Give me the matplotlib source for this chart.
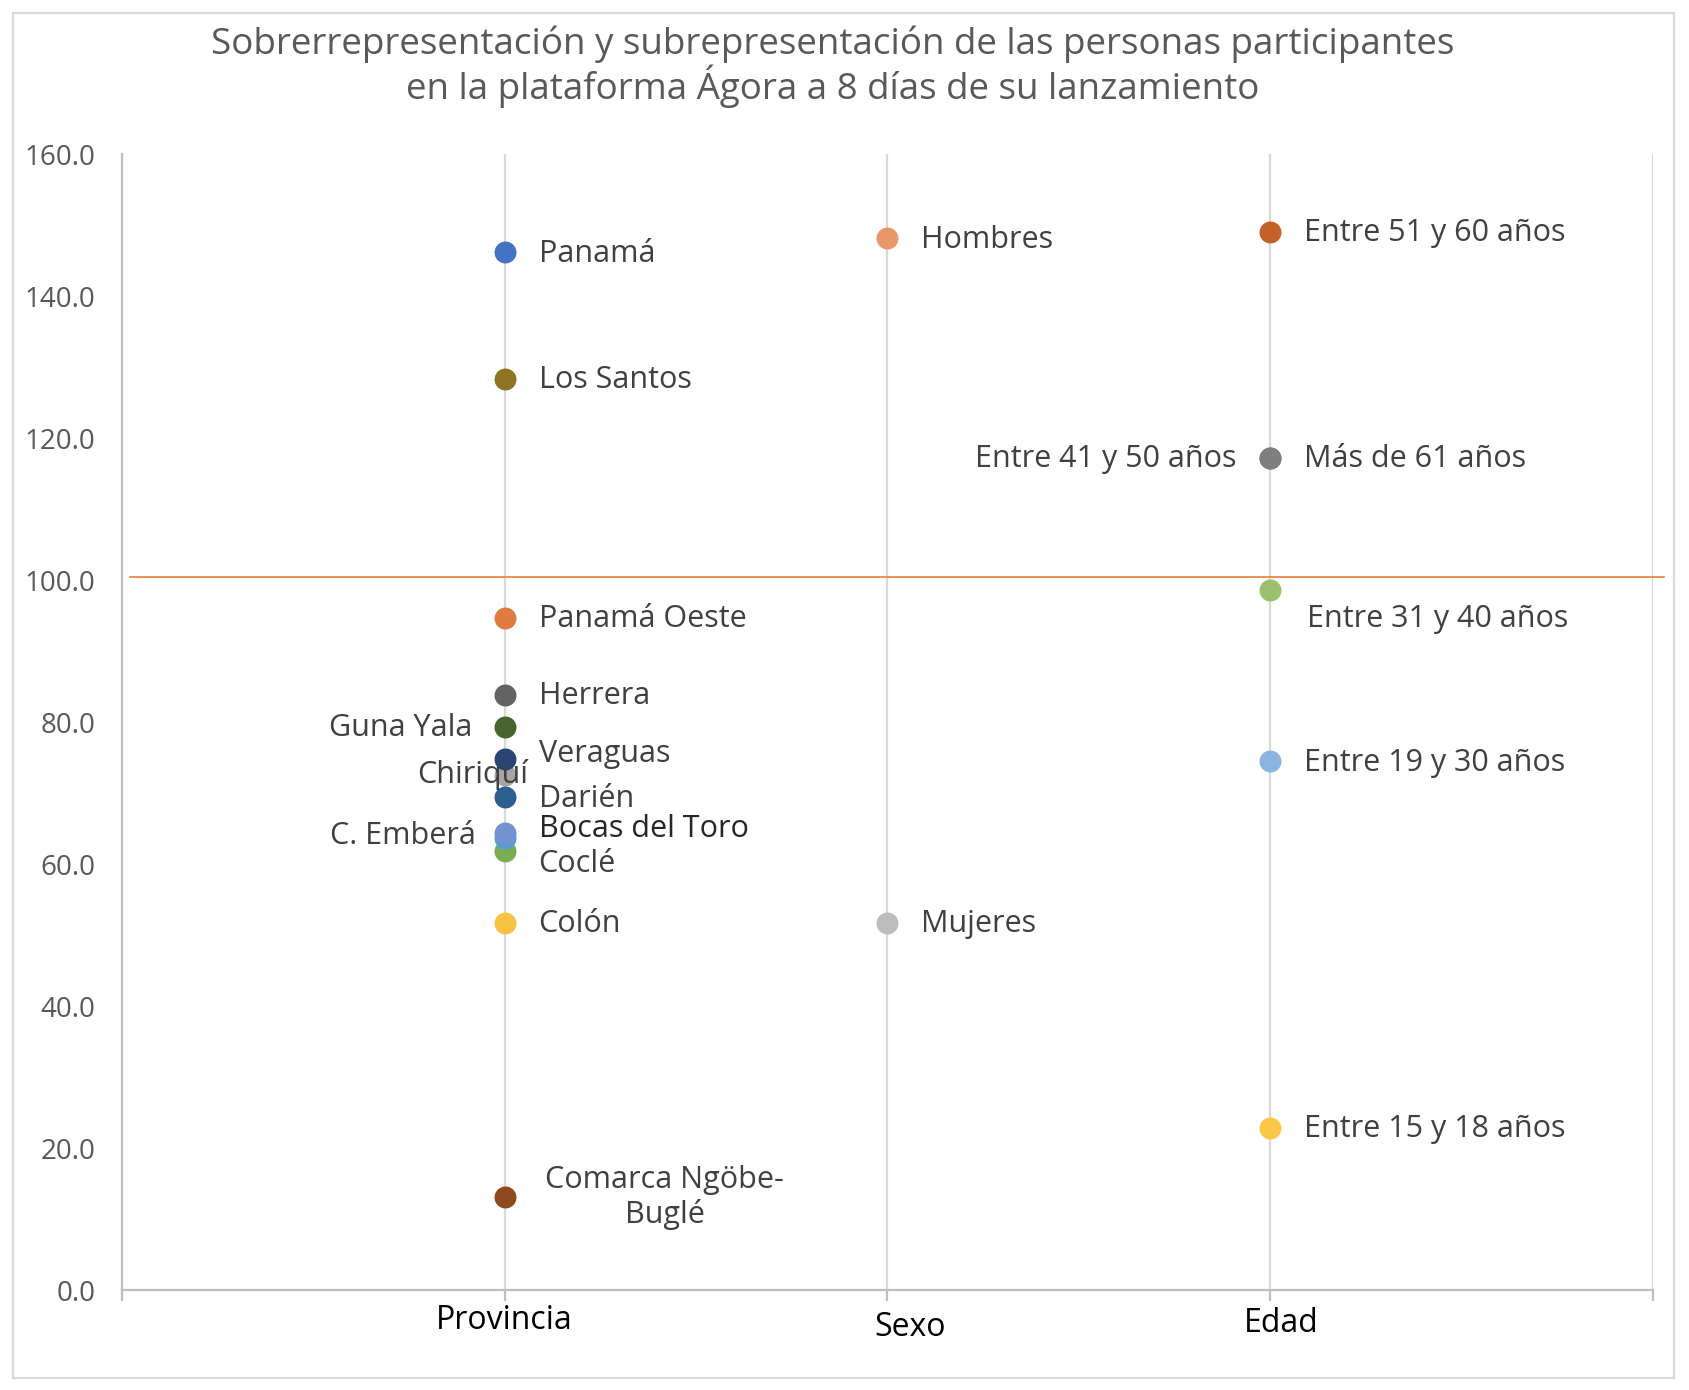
import matplotlib.pyplot as plt
from matplotlib.patches import Rectangle
from matplotlib.lines import Line2D

plt.rcParams['font.family'] = ['Open Sans', 'DejaVu Sans']

# categories on the x axis
categories = ['Provincia', 'Sexo', 'Edad']
cat_pos = [1, 2, 3]

# provincia (drawing order: later ones on top)
prov_names = ['Panamá', 'Los Santos', 'Panamá Oeste', 'Herrera', 'Guna Yala',
              'Chiriquí', 'Veraguas', 'Darién', 'Coclé', 'C. Emberá',
              'Bocas del Toro', 'Colón', 'Comarca Ngöbe-\nBuglé']
prov_values = [146.3, 128.4, 94.7, 83.9, 79.4, 72.6, 74.8, 69.5, 61.9, 63.7,
               64.4, 51.8, 13.2]
prov_colors = ['#4472C4', '#8F7421', '#E07B3F', '#636363', '#46652E',
               '#A5A5A5', '#2A4476', '#2C5F8E', '#78AD52', '#5B9BD5',
               '#7293D0', '#F6C343', '#8E4A1E']

# sexo
sexo_names = ['Hombres', 'Mujeres']
sexo_values = [148.2, 51.8]
sexo_colors = ['#E8976A', '#BDBDBD']

# edad
edad_names = ['Entre 51 y 60 años', 'Entre 41 y 50 años', 'Más de 61 años',
              'Entre 31 y 40 años', 'Entre 19 y 30 años', 'Entre 15 y 18 años']
edad_values = [149.1, 117.2, 117.2, 98.7, 74.5, 22.8]
edad_colors = ['#C4602A', '#4472C4', '#7F7F7F', '#9BC16F', '#8CB4E0', '#F8C846']

reference_value = 100.5
yticks = [0, 20, 40, 60, 80, 100, 120, 140, 160]

# label offsets (pixels) and alignment per point
prov_offsets = [(34, -2, 'left'), (34, -1, 'left'), (34, -1, 'left'), (34, -1, 'left'),
                (-32, -1, 'right'), (24, 0, 'right'), (34, 5, 'left'), (34, -2, 'left'),
                (34, -13, 'left'), (-29, 2, 'right'), (34, 4, 'left'), (34, -1, 'left'),
                (160, -1, 'center')]
sexo_offsets = [(34, -2, 'left'), (34, -1, 'left')]
edad_offsets = [(34, -1, 'left'), (-33, -1, 'right'), (34, -1, 'left'),
                (37, -29, 'left'), (34, -2, 'left'), (34, -1, 'left')]

fig = plt.figure(figsize=(16.9, 13.9), dpi=100)
ax = fig.add_axes([0.0721, 0.0717, 0.9058, 0.8173])

# outer border
fig.patches.append(Rectangle((13 / 1690, 12 / 1390), 1661 / 1690, 1365 / 1390,
                             transform=fig.transFigure, fill=False,
                             edgecolor='#D9D9D9', linewidth=1.6))

ax.set_xlim(0, 4)
ax.set_ylim(0, 160)

# vertical gridlines
for xg in [1, 2, 3, 4]:
    ax.axvline(xg, color='#D9D9D9', linewidth=1.6, zorder=0)

for s in ['top', 'right']:
    ax.spines[s].set_visible(False)
for s in ['left', 'bottom']:
    ax.spines[s].set_color('#BFBFBF')
    ax.spines[s].set_linewidth(1.6)

ax.set_xticks([0, 1, 2, 3, 4])
ax.set_xticklabels([])
ax.tick_params(axis='x', length=8, width=1.6, color='#BFBFBF')
ax.set_yticks(yticks)
ax.set_yticklabels([f'{v:.1f}' for v in yticks])
ax.tick_params(axis='y', length=0, pad=19, labelsize=20, labelcolor='#595959')

# reference line at 100
ax.add_line(Line2D([0.02, 4.03], [reference_value, reference_value],
                   color='#ED7D31', linewidth=1.2, clip_on=False, zorder=1))


def draw_group(xpos, names, values, colors, offsets):
    for name, v, c, (dx, dy, ha) in zip(names, values, colors, offsets):
        ax.scatter([xpos], [v], s=250, color=c, zorder=3, linewidths=0)
        col = '#262626' if name == 'Bocas del Toro' else '#404040'
        ax.annotate(name, (xpos, v), xytext=(dx, dy), textcoords='offset pixels',
                    ha=ha, va='center', fontsize=22, color=col,
                    multialignment='center', linespacing=1.15, zorder=4)


draw_group(cat_pos[0], prov_names, prov_values, prov_colors, prov_offsets)
draw_group(cat_pos[1], sexo_names, sexo_values, sexo_colors, sexo_offsets)
draw_group(cat_pos[2], edad_names, edad_values, edad_colors, edad_offsets)

# category labels
cat_label_offsets = [(0, -30), (23, -37), (11, -33)]
for name, xp, (dx, dy) in zip(categories, cat_pos, cat_label_offsets):
    ax.annotate(name, (xp, 0), xytext=(dx, dy), textcoords='offset pixels',
                ha='center', va='center', fontsize=23, color='#000000',
                annotation_clip=False)

fig.text(0.4925, 0.952,
         'Sobrerrepresentación y subrepresentación de las personas participantes\n'
         'en la plataforma Ágora a 8 días de su lanzamiento',
         ha='center', va='center', fontsize=26.5, color='#595959', linespacing=1.04)

fig.savefig('out.png', dpi=100)
